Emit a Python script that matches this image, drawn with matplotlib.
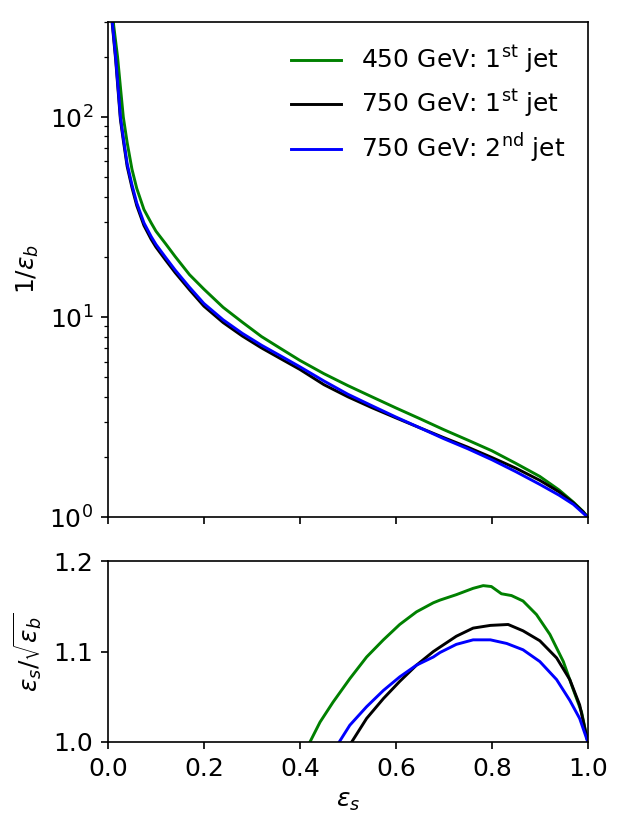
import numpy as np
import matplotlib
matplotlib.use("Agg")
import matplotlib.pyplot as plt

plt.rcParams["font.size"] = 12

labels = ["450 GeV: 1$^{\\rm st}$ jet", "750 GeV: 1$^{\\rm st}$ jet", "750 GeV: 2$^{\\rm nd}$ jet"]
colors = ["green", "black", "blue"]

# top panel: background rejection 1/eps_b vs signal efficiency eps_s
eff_s = [0.009, 0.012, 0.016, 0.02, 0.026, 0.032, 0.04, 0.05, 0.06, 0.075, 0.09, 0.1,
         0.12, 0.14, 0.17, 0.2, 0.24, 0.28, 0.32, 0.36, 0.4, 0.45, 0.5, 0.55, 0.6,
         0.65, 0.7, 0.75, 0.8, 0.85, 0.9, 0.94, 0.97, 0.99, 1.0]
rej_450_1st = [345, 286, 239, 200, 141, 100, 74.6, 54.9, 44, 34.5, 29.6, 26.9,
               23.3, 20.1, 16.3, 13.8, 11.2, 9.44, 8.0, 6.97, 6.08, 5.22, 4.55, 4.0, 3.52,
               3.11, 2.74, 2.43, 2.15, 1.86, 1.60, 1.37, 1.19, 1.07, 1.0]
rej_750_1st = [292, 245, 194, 147, 97, 76.5, 56.7, 44.5, 36.1, 28.7, 24.5, 22.4,
               19.3, 16.7, 13.7, 11.35, 9.4, 8.05, 7.02, 6.2, 5.48, 4.6, 4.0, 3.53, 3.14,
               2.80, 2.50, 2.24, 1.99, 1.76, 1.53, 1.34, 1.18, 1.066, 1.0]
rej_750_2nd = [300, 252, 200, 152, 100, 79, 58.5, 45.9, 37.2, 29.6, 25.3, 23.1,
               19.9, 17.2, 14.1, 11.7, 9.7, 8.3, 7.24, 6.4, 5.65, 4.8, 4.12, 3.61, 3.17,
               2.80, 2.47, 2.20, 1.94, 1.69, 1.46, 1.29, 1.16, 1.05, 1.0]

# bottom panel: significance improvement eps_s/sqrt(eps_b)
x_450_1st = [0.421, 0.442, 0.469, 0.504, 0.539, 0.574, 0.608, 0.643, 0.678, 0.692, 0.726,
             0.761, 0.782, 0.799, 0.82, 0.841, 0.865, 0.893, 0.921, 0.949, 0.969, 0.987, 1.0]
sig_450_1st = [1.0, 1.022, 1.044, 1.07, 1.094, 1.113, 1.13, 1.144, 1.154, 1.157, 1.163,
               1.17, 1.173, 1.172, 1.164, 1.162, 1.156, 1.141, 1.119, 1.089, 1.059, 1.033, 1.0]
x_750_1st = [0.508, 0.539, 0.574, 0.608, 0.643, 0.678, 0.692, 0.726, 0.761, 0.797, 0.834,
             0.865, 0.9, 0.935, 0.9625, 0.983, 1.0]
sig_750_1st = [1.0, 1.026, 1.048, 1.067, 1.085, 1.1, 1.105, 1.117, 1.126, 1.129, 1.13,
               1.123, 1.112, 1.093, 1.069, 1.041, 1.0]
x_750_2nd = [0.482, 0.504, 0.539, 0.574, 0.608, 0.643, 0.678, 0.692, 0.726, 0.761, 0.797,
             0.831, 0.865, 0.9, 0.935, 0.9625, 0.983, 1.0]
sig_750_2nd = [1.0, 1.0185, 1.039, 1.057, 1.072, 1.085, 1.094, 1.099, 1.108, 1.113, 1.113,
               1.109, 1.102, 1.089, 1.069, 1.046, 1.026, 1.0]

fig = plt.figure(figsize=(624 / 150, 829 / 150), dpi=150)
ax1 = fig.add_axes([0.173, 0.376, 0.769, 0.598])
ax2 = fig.add_axes([0.173, 0.105, 0.769, 0.218])

for rej, c, lab in zip([rej_450_1st, rej_750_1st, rej_750_2nd], colors, labels):
    ax1.plot(eff_s, rej, color=c, lw=1.4, label=lab)
ax1.set_yscale("log")
ax1.set_xlim(0, 1)
ax1.set_ylim(1, 300)
ax1.set_xticks([0, 0.2, 0.4, 0.6, 0.8, 1.0])
ax1.set_xticklabels([])
ax1.set_ylabel(r"$1/\varepsilon_b$")
ax1.legend(loc="upper right", frameon=False)

for xs, sig, c in zip([x_450_1st, x_750_1st, x_750_2nd], [sig_450_1st, sig_750_1st, sig_750_2nd], colors):
    ax2.plot(xs, sig, color=c, lw=1.4)
ax2.set_xlim(0, 1)
ax2.set_ylim(1.0, 1.2)
ax2.set_yticks([1.0, 1.1, 1.2])
ax2.set_xticks([0, 0.2, 0.4, 0.6, 0.8, 1.0])
ax2.set_xlabel(r"$\varepsilon_s$")
ax2.set_ylabel(r"$\varepsilon_s/\sqrt{\varepsilon_b}$")

fig.savefig("out.png", dpi=150)
